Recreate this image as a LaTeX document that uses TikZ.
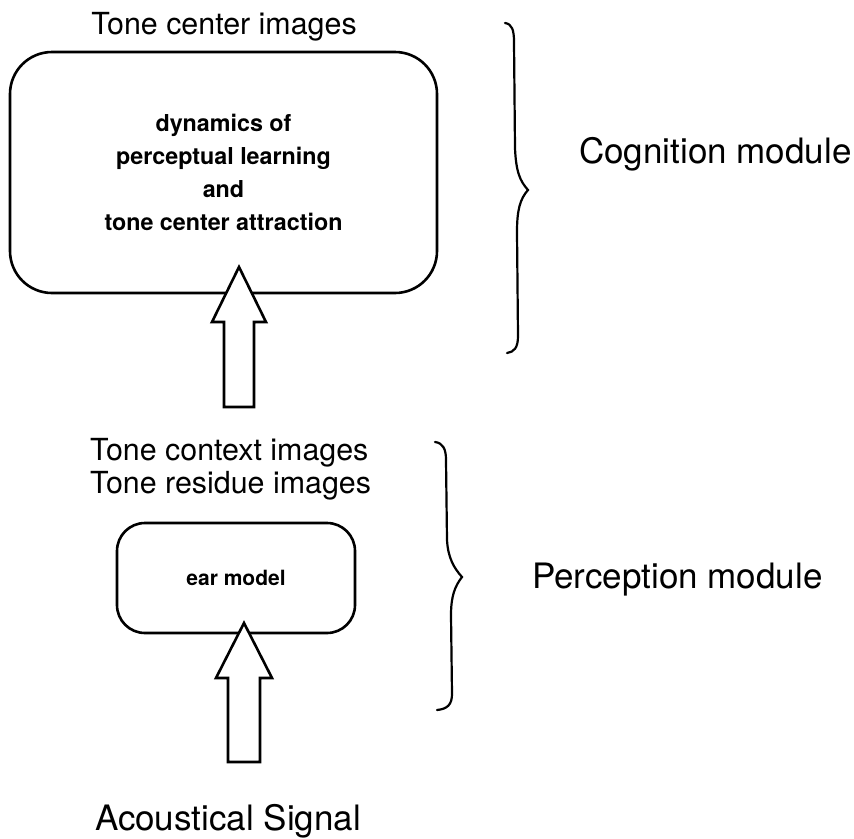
\documentclass[tikz,border=0pt]{standalone}
\usepackage{fontspec}
\setmainfont{TeX Gyre Heros}
\usetikzlibrary{calc}
\begin{document}
\begin{tikzpicture}[x=1pt,y=-1pt,
  box/.style={draw, line width=2.6pt, align=center, inner sep=0pt},
  blockarrow/.style={draw, fill=white, line width=2.6pt, line join=miter},
  brace/.style={draw, line width=2.2pt, line cap=round},
  lbl/.style={inner sep=0pt, anchor=base west},
  smalltxt/.style={font=\fontsize{30.4}{33}\selectfont},
  bigtxt/.style={font=\fontsize{35}{40}\selectfont},
]
\useasboundingbox (0,0) rectangle (854,838);

% cognition block
\node[box, rounded corners=42pt, minimum width=427pt, minimum height=241pt,
      font=\fontsize{23.3}{33}\selectfont\bfseries] (cog) at (223.5,172.5)
  {dynamics of\\perceptual learning\\and\\tone center attraction};
\node[smalltxt, inner sep=0pt, anchor=base] (tci) at (224,34) {Tone center images};

% perception block
\node[box, rounded corners=28pt, minimum width=238pt, minimum height=110pt,
      font=\fontsize{21}{25}\selectfont\bfseries] (ear) at (236,578) {ear model};
\node[smalltxt, lbl] (tcx) at (90,460) {Tone context images};
\node[smalltxt, lbl] (tri) at (90,493) {Tone residue images};

% input label
\node[bigtxt, inner sep=0pt, anchor=base] (sig) at (228,830) {Acoustical Signal};

% module labels
\node[bigtxt, lbl] (cogm) at (579,163) {Cognition module};
\node[bigtxt, lbl] (perm) at (532,588) {Perception module};

% block arrow: perception images -> cognition block
\coordinate (a1) at (239,267);
\coordinate (a1b) at (239,407);
\path (a1b) ++(15,0) coordinate (a1r) ++(-30,0) coordinate (a1l);
\draw[blockarrow] (a1) -- ++(27,55) -| (a1r) -- (a1l) |- ($(a1)+(-27,55)$) -- cycle;

% block arrow: acoustical signal -> ear model
\coordinate (a2) at (244,623);
\coordinate (a2b) at (244,762);
\path (a2b) ++(16,0) coordinate (a2r) ++(-32,0) coordinate (a2l);
\draw[blockarrow] (a2) -- ++(28,55) -| (a2r) -- (a2l) |- ($(a2)+(-28,55)$) -- cycle;

% braces
\draw[brace] (505,23) .. controls (512,24) and (514,30) .. (514,42)
  -- (515,148) .. controls (516,172) and (520,181) .. (528,190)
  .. controls (520,199) and (517,210) .. (517,232)
  -- (518,336) .. controls (518,348) and (514,352) .. (507,353);
\draw[brace] (435,442) .. controls (443,443) and (446,449) .. (446,460)
  -- (447,540) .. controls (448,558) and (454,568) .. (462,577)
  .. controls (455,586) and (451,596) .. (451,615)
  -- (452,694) .. controls (452,705) and (447,709) .. (437,710);
\end{tikzpicture}
\end{document}
